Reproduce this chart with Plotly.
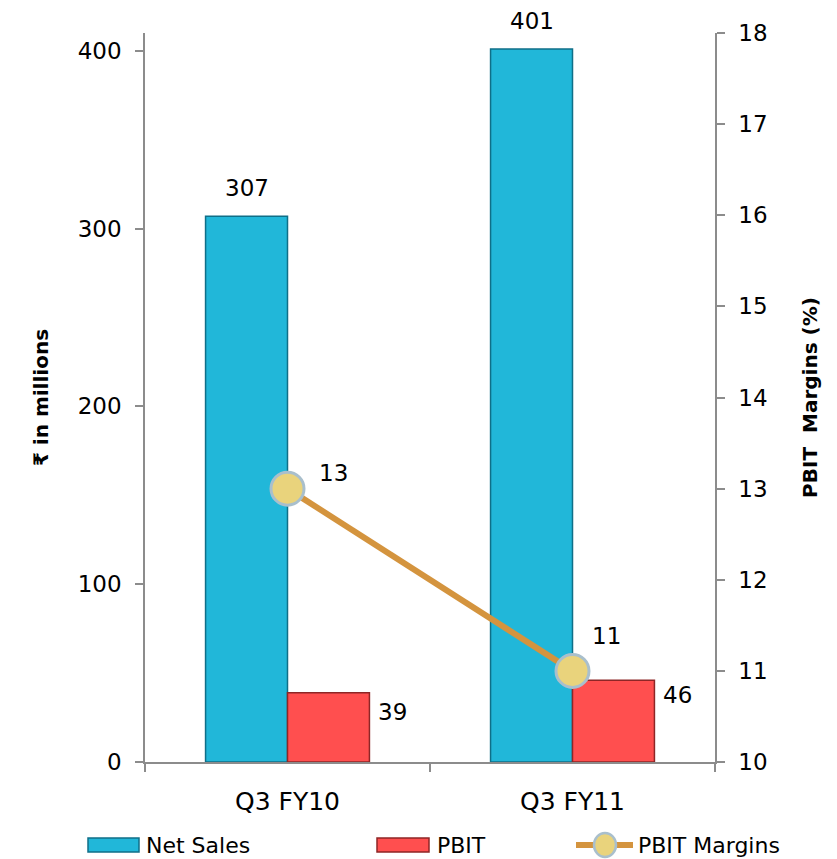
import plotly.graph_objects as go

quarters = ["Q3 FY10", "Q3 FY11"]
net_sales = [307, 401]
pbit = [39, 46]
pbit_margin = [13, 11]

FONT = "'DejaVu Sans', 'Noto Sans', sans-serif"
CYAN = "#21B7D9"
RED = "#FF4F4F"
LINE = "#D4943E"
AXIS = "#8C8C8C"
BALL = "#E9D37C"
RIM = "#A9BFCC"

# plot-area geometry in pixels, used to place the hand-drawn legend
W, H = 837, 859
L, R, T, B = 145, 122, 33, 97
PW, PH = W - L - R, H - T - B


def px_x(px):
    return (px - L) / PW


def px_y(py):
    return (H - B - py) / PH


fig = go.Figure()

fig.add_trace(go.Bar(
    x=quarters, y=net_sales, name="Net Sales",
    marker=dict(color=CYAN, line=dict(color="#0F6F88", width=1.5)),
))
fig.add_trace(go.Bar(
    x=quarters, y=pbit, name="PBIT",
    marker=dict(color=RED, line=dict(color="#8E2626", width=1.5)),
))
fig.add_trace(go.Scatter(
    x=quarters, y=pbit_margin, name="PBIT Margins", yaxis="y2",
    mode="lines+markers",
    line=dict(color=LINE, width=6),
    marker=dict(size=33, color=BALL, line=dict(color=RIM, width=3)),
    cliponaxis=False,
))

lbl = dict(size=23, color="black", family=FONT)
# value labels above the Net Sales bars
for q, v in zip(quarters, net_sales):
    fig.add_annotation(x=q, y=v, yref="y", text=str(v), showarrow=False,
                       xshift=-41, yshift=28, xanchor="center", yanchor="middle", font=lbl)
# value labels beside the PBIT bars
for q, v, dy in zip(quarters, pbit, [-19, -15]):
    fig.add_annotation(x=q, y=v, yref="y", text=str(v), showarrow=False,
                       xshift=105, yshift=dy, xanchor="center", yanchor="middle", font=lbl)
# value labels beside the margin markers
for q, v, dx, dy in zip(quarters, pbit_margin, [46, 34], [16, 35]):
    fig.add_annotation(x=q, y=v, yref="y2", text=str(v), showarrow=False,
                       xshift=dx, yshift=dy, xanchor="center", yanchor="middle", font=lbl)

# legend row drawn under the axis
leg_y = 845
icon_h = 14
leg_font = dict(size=22, color="black", family=FONT)
legend_items = [
    ("Net Sales", CYAN, "#0F6F88", 88, 139, 144),
    ("PBIT", RED, "#8E2626", 377, 429, 435),
]
for name, fill, edge, x0, x1, tx in legend_items:
    fig.add_shape(type="rect", xref="paper", yref="paper",
                  x0=px_x(x0), x1=px_x(x1),
                  y0=px_y(leg_y + icon_h / 2), y1=px_y(leg_y - icon_h / 2),
                  fillcolor=fill, line=dict(color=edge, width=1.5))
    fig.add_annotation(xref="paper", yref="paper", x=px_x(tx), y=px_y(leg_y),
                       text=name, showarrow=False, xanchor="left", yanchor="middle",
                       font=leg_font)
fig.add_shape(type="line", xref="paper", yref="paper",
              x0=px_x(576), x1=px_x(633), y0=px_y(leg_y), y1=px_y(leg_y),
              line=dict(color=LINE, width=6))
fig.add_shape(type="circle", xref="paper", yref="paper",
              x0=px_x(594), x1=px_x(616), y0=px_y(leg_y + 12), y1=px_y(leg_y - 12),
              fillcolor=BALL, line=dict(color=RIM, width=2.5))
fig.add_annotation(xref="paper", yref="paper", x=px_x(636), y=px_y(leg_y),
                   text="PBIT Margins", showarrow=False, xanchor="left", yanchor="middle",
                   font=leg_font)

fig.update_layout(
    width=W, height=H,
    margin=dict(l=L, r=R, t=T, b=B, autoexpand=False),
    paper_bgcolor="white", plot_bgcolor="white",
    barmode="group", bargap=0.425, bargroupgap=0,
    font=dict(family=FONT, size=22, color="black"),
    showlegend=False,
    xaxis=dict(showline=True, linecolor=AXIS, linewidth=1.5, ticks="outside",
               tickson="boundaries", ticklen=8, tickcolor=AXIS, tickwidth=1.5,
               tickfont=dict(size=25), ticklabelstandoff=16, showgrid=False),
    yaxis=dict(range=[0, 410], tickvals=[0, 100, 200, 300, 400],
               showline=True, linecolor=AXIS, linewidth=1.5, ticks="outside",
               ticklen=8, tickcolor=AXIS, tickwidth=1.5, showgrid=False, zeroline=False,
               tickfont=dict(size=23), ticklabelstandoff=9,
               title=dict(text="<b>₹ in millions</b>", font=dict(size=20), standoff=24)),
    yaxis2=dict(range=[10, 18], dtick=1, overlaying="y", side="right",
                showline=True, linecolor=AXIS, linewidth=1.5, ticks="outside",
                ticklen=8, tickcolor=AXIS, tickwidth=1.5, showgrid=False, zeroline=False,
                tickfont=dict(size=23), ticklabelstandoff=9,
                title=dict(text="<b>PBIT  Margins (%)</b>", font=dict(size=20), standoff=36)),
)

fig.write_html("out.html")
